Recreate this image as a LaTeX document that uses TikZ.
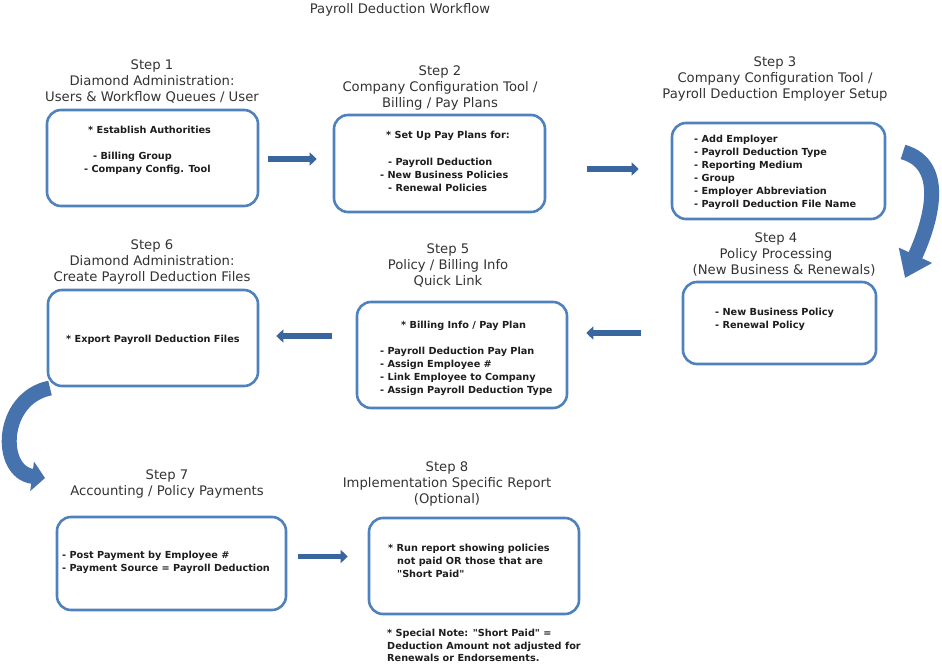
\documentclass[tikz,border=0pt]{standalone}
\usepackage{fontspec}
\setmainfont{DejaVu Sans}[Ligatures=TeXOff]
\usepackage{xcolor}
\usetikzlibrary{arrows.meta, positioning, calc}
\definecolor{boxblue}{RGB}{79, 129, 189}
\definecolor{arrowblue}{RGB}{58, 102, 160}
\definecolor{bendblue}{RGB}{70, 114, 174}
\definecolor{textgray}{RGB}{51, 51, 51}
\definecolor{textdark}{RGB}{30, 30, 30}
\newcommand{\titlefont}{\fontsize{13.2}{16}\selectfont}
\newcommand{\itemfont}{\fontsize{9.7}{13}\selectfont\bfseries}

\begin{document}
\begin{tikzpicture}[
    x=1pt, y=-1pt,
    box/.style={rectangle, draw=boxblue, line width=2.6pt, rounded corners=14pt,
                fill=white, inner sep=0pt},
    steptitle/.style={font=\titlefont, text=textgray, align=center, anchor=north, inner sep=0pt},
    items/.style={font=\itemfont, text=textdark, align=left, anchor=north west, inner sep=0pt},
    flowarrow/.style={-{Triangle[length=7pt, width=13pt]}, line width=5.5pt, arrowblue},
    bendarrow/.style={line width=15pt, bendblue}
]
\useasboundingbox (0,0) rectangle (942,666);

% title
\node[steptitle] (title) at (400,3) {Payroll Deduction Workflow};

% boxes
\node[box, minimum width=211pt, minimum height=96pt] (box1) at (152.5,158) {};
\node[box, minimum width=211pt, minimum height=97pt] (box2) at (439.5,163.5) {};
\node[box, minimum width=213pt, minimum height=96pt] (box3) at (778.5,171) {};
\node[box, minimum width=193pt, minimum height=82pt] (box4) at (779.5,323) {};
\node[box, minimum width=210pt, minimum height=106pt] (box5) at (462,355) {};
\node[box, minimum width=210pt, minimum height=96pt] (box6) at (153,338) {};
\node[box, minimum width=229pt, minimum height=93pt] (box7) at (171.5,563.5) {};
\node[box, minimum width=210pt, minimum height=96pt] (box8) at (474,566) {};

% step titles
\node[steptitle] (title1) at (152,60) {Step 1\\Diamond Administration:\\Users \& Workflow Queues / User};
\node[steptitle] (title2) at (440,66) {Step 2\\Company Configuration Tool /\\Billing / Pay Plans};
\node[steptitle] (title3) at (775,57) {Step 3\\Company Configuration Tool /\\Payroll Deduction Employer Setup};
\node[steptitle] (title4) at (776,233) {Step 4\\Policy Processing\\\hspace*{16pt}(New Business \& Renewals)};
\node[steptitle] (title5) at (448,244) {Step 5\\Policy / Billing Info\\Quick Link};
\node[steptitle] (title6) at (152,240) {Step 6\\Diamond Administration:\\Create Payroll Deduction Files};
\node[steptitle] (title7) at (167,469) {Step 7\\Accounting / Policy Payments};
\node[steptitle] (title8) at (447,461) {Step 8\\Implementation Specific Report\\(Optional)};

% box contents
\node[items] (items1a) at (88,125.5) {* Establish Authorities};
\node[items] (items1b) at (93,151.5) {- Billing Group};
\node[items] (items1c) at (84,164.5) {- Company Config. Tool};
\node[items] (items2a) at (386,130.5) {* Set Up Pay Plans for:};
\node[items] (items2b) at (388,157.5) {- Payroll Deduction};
\node[items] (items2c) at (380,170.5) {- New Business Policies};
\node[items] (items2d) at (388,183.5) {- Renewal Policies};
\node[items] (items3) at (694,134.5) {- Add Employer\\- Payroll Deduction Type\\- Reporting Medium\\- Group\\- Employer Abbreviation\\- Payroll Deduction File Name};
\node[items] (items4) at (715,307.5) {- New Business Policy\\- Renewal Policy};
\node[items] (items5a) at (401,320.5) {* Billing Info / Pay Plan};
\node[items] (items5b) at (380,346.5) {- Payroll Deduction Pay Plan\\- Assign Employee \#\\- Link Employee to Company\\- Assign Payroll Deduction Type};
\node[items] (items6) at (66,334.5) {* Export Payroll Deduction Files};
\node[items] (items7) at (62,550.5) {- Post Payment by Employee \#\\- Payment Source = Payroll Deduction};
\node[items] (items8a) at (388,543.5) {* Run report showing policies};
\node[items] (items8b) at (397,556.5) {not paid OR those that are\\"Short Paid"};
\node[items, font=\fontsize{9.7}{12.5}\selectfont\bfseries] (note) at (387,629) {* Special Note: "Short Paid" =\\Deduction Amount not adjusted for\\Renewals or Endorsements.};

% straight arrows
\draw[flowarrow, shorten <=9pt, shorten >=16pt] ([yshift=-1pt]box1.east) -- ([yshift=-1pt]box1.east -| box2.west);
\draw[flowarrow, shorten <=41pt, shorten >=32pt] ([yshift=2pt]box3.west -| box2.east) -- ([yshift=2pt]box3.west);
\draw[flowarrow, shorten <=41pt, shorten >=18pt] ([yshift=-10pt]box4.west) -- ([yshift=-10pt]box4.west -| box5.east);
\draw[flowarrow, shorten <=24pt, shorten >=17pt] ([yshift=19pt]box5.west) -- ([yshift=19pt]box5.west -| box6.east);
\draw[flowarrow, shorten <=11pt, shorten >=20pt] ([yshift=7pt]box7.east) -- ([yshift=7pt]box7.east -| box8.west);

% curved arrows
\coordinate (turn3s) at (903,152);
\coordinate (turn4e) at (905,278);
\coordinate (turn6s) at (50,388);
\coordinate (turn7e) at (45,478);
\draw[bendarrow, -{Triangle[length=25pt, width=35pt]}] (turn3s) .. controls (950,165) and (928,228) .. (turn4e);
\draw[bendarrow, -{Triangle[length=13pt, width=29pt]}] (turn6s) .. controls (0,398) and (-2,472) .. (turn7e);
\end{tikzpicture}
\end{document}
